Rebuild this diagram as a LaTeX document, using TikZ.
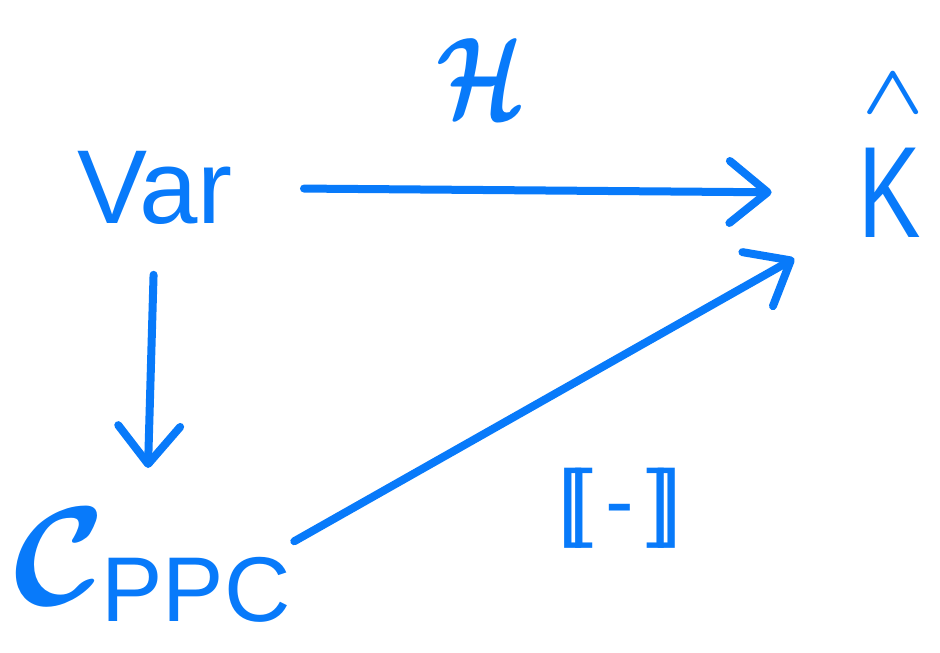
\documentclass[tikz,border=0pt]{standalone}
\usepackage{fontspec}
\setmainfont{Liberation Sans}
\usetikzlibrary{arrows.meta}
\definecolor{ink}{RGB}{8,122,250}
\tikzset{
  obj/.style={text=ink, inner sep=0pt, font=\fontsize{#1}{#1}\selectfont},
  sym/.style={text=ink, inner sep=0pt, font=\boldmath},
  arr/.style={draw=ink, line width=8pt, line cap=round, line join=round,
    -{Straight Barb[length=38pt, width=62pt, line width=8pt, round]}},
}
\begin{document}
\begin{tikzpicture}[x=1pt, y=-1pt]
  \useasboundingbox (0,0) rectangle (940,653);
  % objects
  \node[obj=105] (var) at (155,188) {Var};
  \node[obj=130, xscale=0.72] (k) at (890,193) {K};
  \node[sym] (khat) at (893,94) {\scalebox{8}[7]{$\wedge$}};
  \node[sym] (cal) at (60,556) {\scalebox{14}{$\,\mathcal{C}\,$}};
  \node[obj=92] (ppc) at (196,590) {PPC};
  \coordinate (cppctop) at (148,468);
  % arrow labels
  \node[sym] (hlab) at (481,78) {\scalebox{9}[11.5]{$\,\mathcal{H}\,$}};
  \node[obj=86] (sem) at (620,508)
    {[\kern-0.15em[\kern0.14em-\kern0.14em]\kern-0.15em]};
  % connectors
  \draw[arr, shorten <=71pt, shorten >=87pt] (var.east) -- (k.west);
  \draw[arr, shorten <=50pt] (var.south) -- (cppctop);
  \draw[arr, shorten <=4pt, shorten >=74pt]
    ([yshift=14pt]ppc.north east) -- ([yshift=-29pt]k.west);
\end{tikzpicture}
\end{document}
